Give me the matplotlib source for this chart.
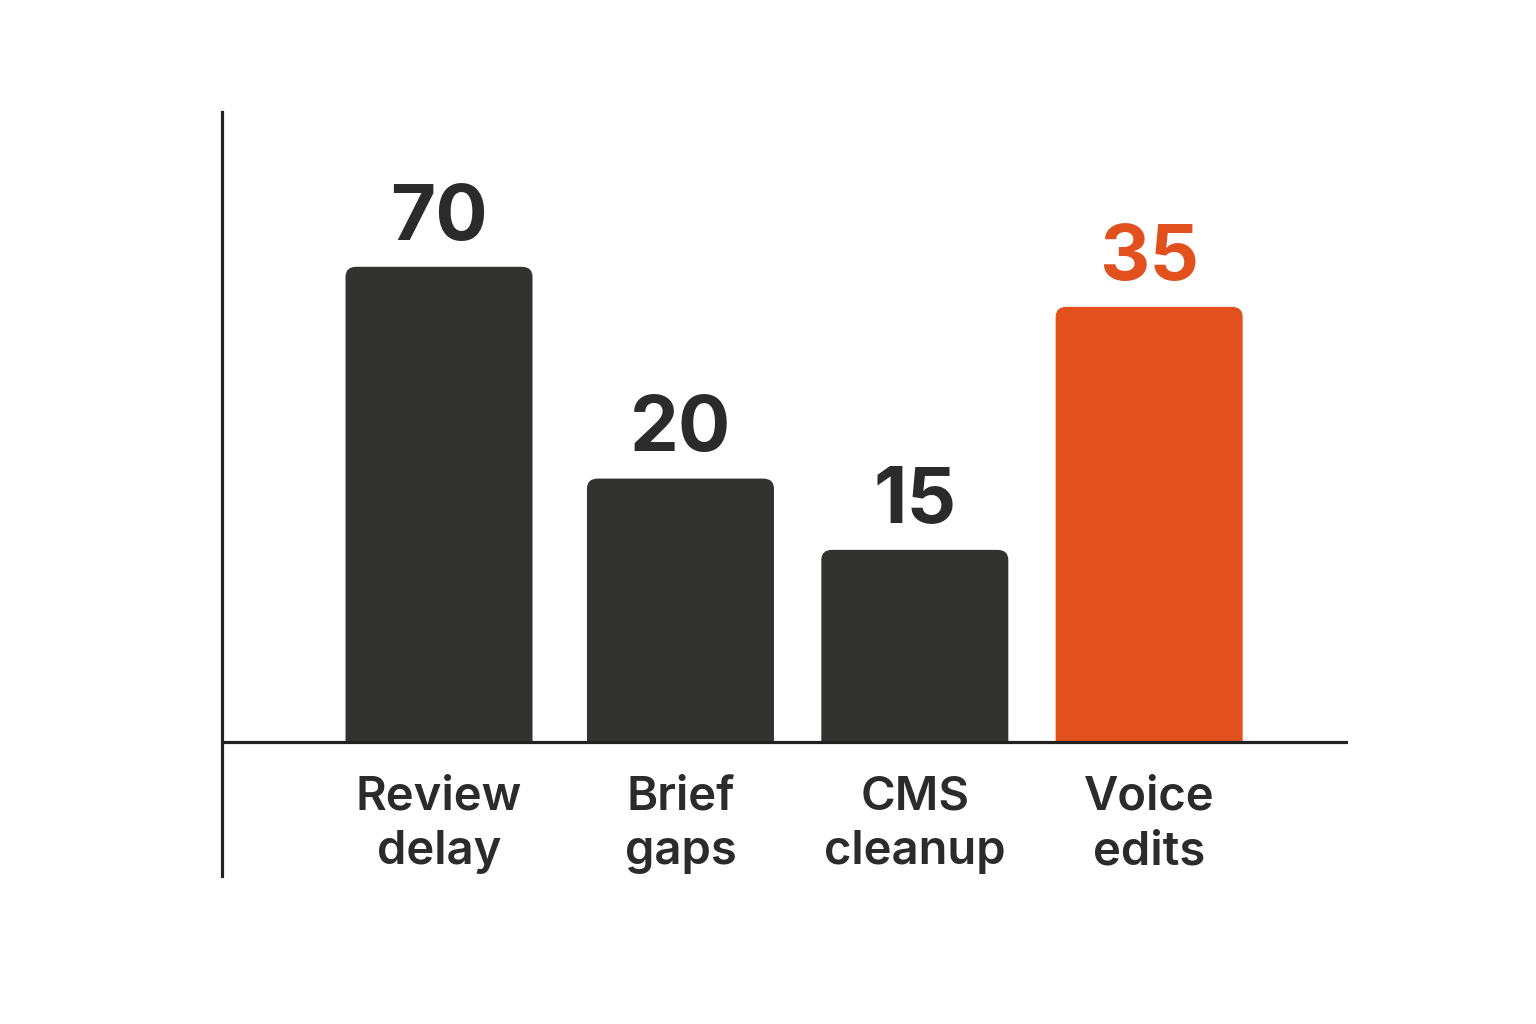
import matplotlib
matplotlib.use("Agg")
import matplotlib.pyplot as plt
from matplotlib.patches import FancyBboxPatch, Rectangle

# ---- data ----
categories = ["Review\ndelay", "Brief\ngaps", "CMS\ncleanup", "Voice\nedits"]
values = [70, 20, 15, 35]                 # printed value labels
bar_heights = [70, 38.8, 28.3, 64.1]      # bar heights as drawn in the reference
highlight = [False, False, False, True]

DARK = "#323231"
ORANGE = "#E1501D"
TEXT_DARK = "#2b2b2b"

plt.rcParams['font.family'] = ['Inter', 'DejaVu Sans']

fig = plt.figure(figsize=(15.36, 10.24), dpi=100)
ax = fig.add_axes([0.1445, 0.1445, 0.8776 - 0.1445, 0.8906 - 0.1445])

x = [0, 1.02, 2.01, 3.0]
width = 0.79
bars = ax.bar(x, bar_heights, width=width, color="none", edgecolor="none")

ax.set_xlim(-0.917, 3.84)
ax.set_ylim(-19.75, 92.8)

clip = Rectangle((-0.917, 0), 10, 200, transform=ax.transData)
for b, hl, v, cat in zip(bars, highlight, values, categories):
    col = ORANGE if hl else DARK
    cx = b.get_x() + b.get_width() / 2
    p = FancyBboxPatch((b.get_x(), -3), b.get_width(), b.get_height() + 3,
                       boxstyle="round,pad=0,rounding_size=0.045",
                       mutation_aspect=33, facecolor=col, edgecolor="none",
                       zorder=2)
    ax.add_patch(p)
    p.set_clip_path(clip)
    ax.text(cx, b.get_height() + 4.0, str(v),
            ha="center", va="baseline", fontsize=56, fontweight="bold",
            color=ORANGE if hl else TEXT_DARK, zorder=3)
    ax.text(cx, -4.9, cat, ha="center", va="top", fontsize=34,
            fontweight="semibold", color=TEXT_DARK, linespacing=1.33,
            clip_on=False)

ax.axhline(0, color="#222222", lw=2.3, zorder=4)

for s in ["top", "right", "bottom"]:
    ax.spines[s].set_visible(False)
ax.spines["left"].set_color("#222222")
ax.spines["left"].set_linewidth(2.3)

ax.set_yticks([])
ax.set_xticks([])

fig.savefig("out.png", dpi=100, facecolor="white")
